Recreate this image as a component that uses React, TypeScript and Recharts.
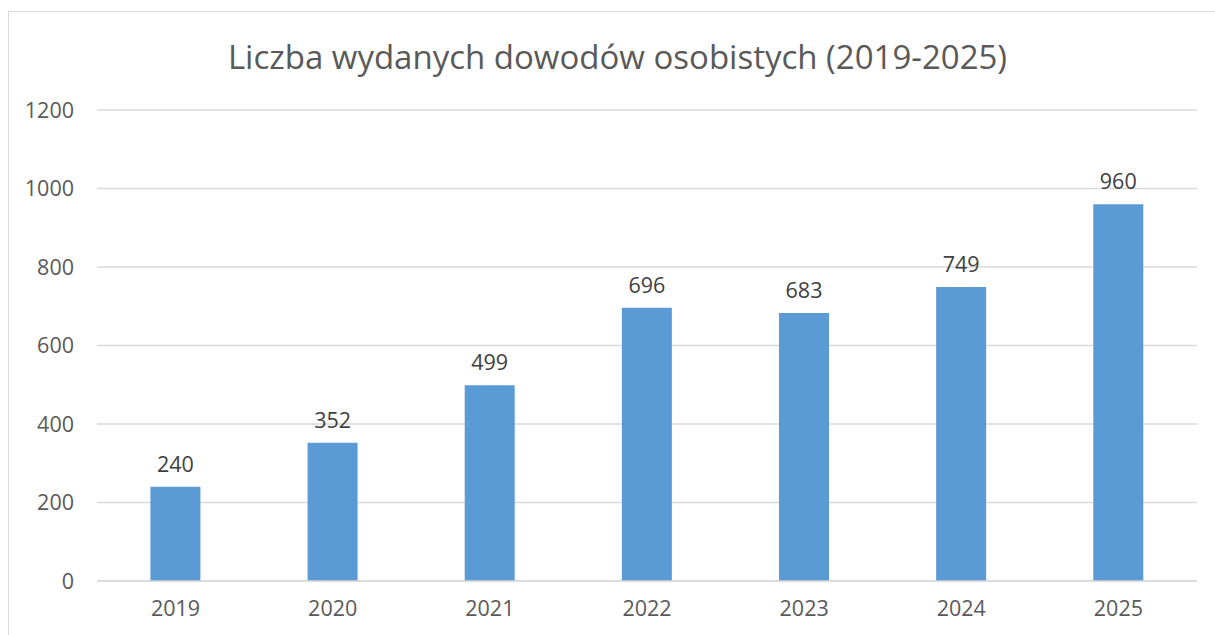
import React from "react";
import { BarChart, Bar, XAxis, YAxis, CartesianGrid, LabelList } from "recharts";

const years = ["2019", "2020", "2021", "2022", "2023", "2024", "2025"];
const issued = [240, 352, 499, 696, 683, 749, 960];
const yTicks = [0, 200, 400, 600, 800, 1000, 1200];

const data = years.map((year, i) => ({ year, issued: issued[i] }));

const FONT = "'Open Sans', 'Liberation Sans', sans-serif";

export default function App() {
  return (
    <div
      style={{
        position: "fixed",
        left: 0,
        top: 0,
        width: 1215,
        height: 635,
        overflow: "hidden",
        background: "#fff",
        fontFamily: FONT,
      }}
    >
      <div
        style={{
          position: "absolute",
          left: 8,
          top: 11,
          width: 1230,
          height: 640,
          borderLeft: "1px solid #d9d9d9",
          borderTop: "1px solid #d9d9d9",
        }}
      >
        <div
          style={{
            position: "absolute",
            left: 0,
            width: 1217,
            top: 24,
            textAlign: "center",
            fontSize: 33,
            color: "#595959",
            lineHeight: "42px",
          }}
        >
          Liczba wydanych dowodów osobistych (2019-2025)
        </div>
        <BarChart
          width={1206}
          height={623}
          data={data}
          margin={{ top: 98, right: 18, bottom: 24, left: 0 }}
          barCategoryGap="34%"
        >
          <CartesianGrid vertical={false} stroke="#d9d9d9" strokeWidth={1.5} />
          <XAxis
            dataKey="year"
            height={30}
            axisLine={{ stroke: "#d9d9d9", strokeWidth: 1.5 }}
            tickLine={false}
            tickSize={0}
            tickMargin={20}
            tick={{ fill: "#595959", fontSize: 21.5, fontFamily: FONT }}
          />
          <YAxis
            width={88}
            domain={[0, 1200]}
            ticks={yTicks}
            axisLine={false}
            tickLine={false}
            tickSize={0}
            tickMargin={23}
            tick={{ fill: "#595959", fontSize: 21.5, fontFamily: FONT }}
          />
          <Bar dataKey="issued" fill="#5b9bd5" isAnimationActive={false}>
            <LabelList
              dataKey="issued"
              position="top"
              offset={15}
              fill="#404040"
              fontSize={21.5}
              fontFamily={FONT}
            />
          </Bar>
        </BarChart>
      </div>
    </div>
  );
}
